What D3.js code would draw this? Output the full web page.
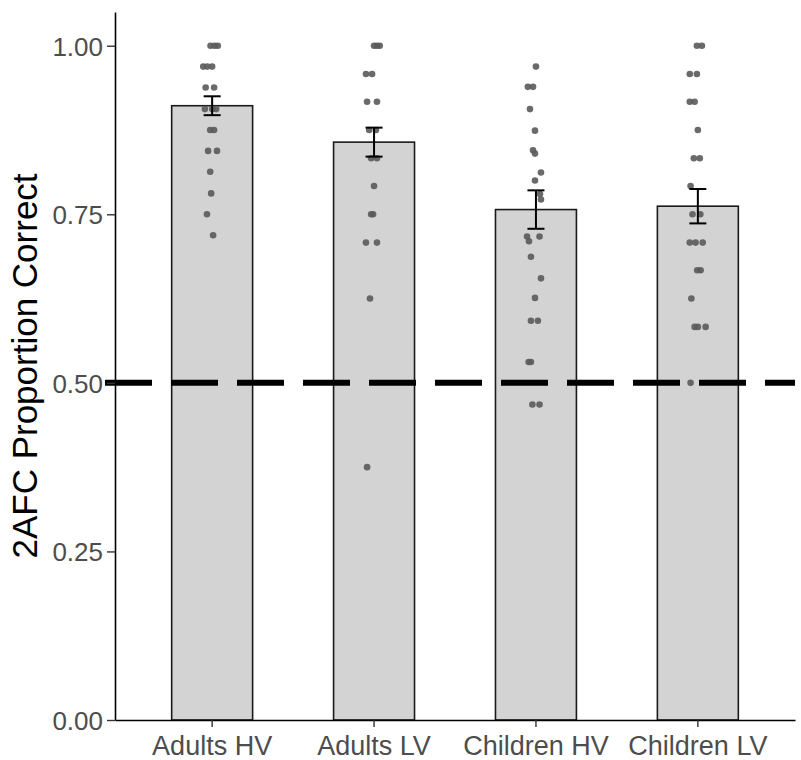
<!DOCTYPE html>
<html>
<head>
<meta charset="utf-8">
<script src="https://cdn.jsdelivr.net/npm/d3@7"></script>
<style>
  html, body { margin: 0; padding: 0; background: #ffffff; }
  svg { display: block; font-family: "Liberation Sans", Arial, sans-serif; }
</style>
</head>
<body>
<svg id="chart" width="801" height="760"></svg>
<script>
// Conditions on the x axis
const categories = ["Adults HV", "Adults LV", "Children HV", "Children LV"];

// Condition means and standard errors of 2AFC proportion correct
const means = [0.911, 0.857, 0.757, 0.762];
const stdErrors = [0.014, 0.0215, 0.0285, 0.0255];

// Individual participant scores: [proportion correct, horizontal jitter (fraction of band step)]
const adultsHV = [
  [1.000, -0.010], [1.000, 0.035], [1.000, 0.015],
  [0.969, -0.055], [0.969, 0.000], [0.969, -0.030],
  [0.938, -0.040], [0.938, 0.012],
  [0.906, -0.045], [0.906, 0.025], [0.906, 0.000],
  [0.875, -0.012], [0.875, 0.012],
  [0.844, -0.025], [0.844, 0.030],
  [0.813, -0.012], [0.781, -0.006], [0.750, -0.032], [0.719, 0.006]
];
const adultsLV = [
  [1.000, 0.000], [1.000, 0.035], [1.000, 0.018],
  [0.958, -0.050], [0.958, -0.012],
  [0.917, -0.043], [0.917, 0.018],
  [0.875, -0.030], [0.875, 0.012],
  [0.833, -0.018], [0.833, 0.018],
  [0.792, 0.000],
  [0.750, -0.018], [0.750, -0.006],
  [0.708, -0.050], [0.708, 0.018],
  [0.625, -0.025], [0.375, -0.043]
];
const childrenHV = [
  [0.969, 0.000], [0.939, -0.050], [0.939, -0.018],
  [0.906, -0.037], [0.874, -0.006], [0.845, -0.018], [0.840, -0.006],
  [0.812, 0.031], [0.800, -0.006], [0.780, 0.025], [0.772, 0.031],
  [0.717, -0.055], [0.710, -0.043], [0.717, 0.022],
  [0.687, -0.031], [0.655, 0.031], [0.626, -0.006],
  [0.592, -0.031], [0.592, 0.012],
  [0.531, -0.045], [0.531, -0.031],
  [0.468, -0.022], [0.468, 0.022]
];
const childrenLV = [
  [1.000, -0.006], [1.000, 0.025],
  [0.958, -0.050], [0.958, -0.006],
  [0.917, -0.050], [0.917, -0.020],
  [0.875, 0.000],
  [0.833, -0.025], [0.833, 0.012],
  [0.792, -0.045],
  [0.750, -0.033], [0.750, 0.015],
  [0.708, -0.050], [0.708, -0.014], [0.708, 0.030],
  [0.667, -0.004], [0.667, 0.017],
  [0.625, -0.040],
  [0.583, -0.020], [0.583, 0.000], [0.583, 0.048],
  [0.500, -0.045]
];
const pointSets = [adultsHV, adultsLV, childrenHV, childrenLV];

// Y axis ticks and chance level
const yTicks = [0, 0.25, 0.5, 0.75, 1.0];
const chanceLevel = 0.5;

const svg = d3.select("#chart");
const margin = { left: 115, right: 6, top: 12, bottom: 40 };
const W = 801, H = 760;
const x0 = margin.left, x1 = W - margin.right;
const yBottom = H - margin.bottom, yTop = margin.top;

const x = d3.scaleBand()
  .domain(categories)
  .range([x0, x1])
  .paddingInner(0.5)
  .paddingOuter(0.35);
const step = x.step();

const y = d3.scaleLinear()
  .domain([0, 1.05])
  .range([yBottom, yTop]);

const rows = categories.map((c, i) => ({ cat: c, mean: means[i], se: stdErrors[i], pts: pointSets[i] }));

// Bars
svg.append("g").selectAll("rect")
  .data(rows)
  .join("rect")
  .attr("x", d => x(d.cat))
  .attr("y", d => y(d.mean))
  .attr("width", x.bandwidth())
  .attr("height", d => y(0) - y(d.mean))
  .attr("fill", "#d3d3d3")
  .attr("stroke", "#1a1a1a")
  .attr("stroke-width", 1.6);

// Participant points
const cx = c => x(c) + x.bandwidth() / 2;
svg.append("g").selectAll("g")
  .data(rows)
  .join("g")
  .each(function (d) {
    d3.select(this).selectAll("circle")
      .data(d.pts)
      .join("circle")
      .attr("cx", p => cx(d.cat) + p[1] * step)
      .attr("cy", p => y(p[0]))
      .attr("r", 3.3)
      .attr("fill", "#5a5a5a")
      .attr("fill-opacity", 0.9);
  });

// Chance line
svg.append("line")
  .attr("x1", x0 - 10)
  .attr("x2", x1)
  .attr("y1", y(chanceLevel))
  .attr("y2", y(chanceLevel))
  .attr("stroke", "#000")
  .attr("stroke-width", 6)
  .attr("stroke-dasharray", "47,19");

// Error bars
const whisker = 0.105 * step / 2;
const eb = svg.append("g").attr("stroke", "#000").attr("stroke-width", 2);
rows.forEach(d => {
  const c = cx(d.cat);
  eb.append("line").attr("x1", c).attr("x2", c).attr("y1", y(d.mean + d.se)).attr("y2", y(d.mean - d.se));
  eb.append("line").attr("x1", c - whisker).attr("x2", c + whisker).attr("y1", y(d.mean + d.se)).attr("y2", y(d.mean + d.se));
  eb.append("line").attr("x1", c - whisker).attr("x2", c + whisker).attr("y1", y(d.mean - d.se)).attr("y2", y(d.mean - d.se));
});

// Axes
const yAxis = svg.append("g")
  .attr("transform", `translate(${x0},0)`)
  .call(d3.axisLeft(y).tickValues(yTicks).tickFormat(d3.format(".2f")).tickSize(8).tickPadding(4).tickSizeOuter(0));
yAxis.select(".domain").attr("stroke", "#000").attr("stroke-width", 1.6);
yAxis.selectAll(".tick line").attr("stroke", "#333").attr("stroke-width", 1.4);
yAxis.selectAll(".tick text").attr("fill", "#4d4d4d").attr("font-size", 26).attr("dy", "0.36em");

const xAxis = svg.append("g")
  .attr("transform", `translate(0,${yBottom})`)
  .call(d3.axisBottom(x).tickSize(7).tickPadding(4).tickSizeOuter(0));
xAxis.select(".domain").attr("stroke", "#000").attr("stroke-width", 1.6);
xAxis.selectAll(".tick line").attr("stroke", "#333").attr("stroke-width", 1.4);
xAxis.selectAll(".tick text").attr("fill", "#4d4d4d").attr("font-size", 27).attr("y", 35).attr("dy", "0");

// Y axis title
svg.append("text")
  .attr("transform", `translate(37,${(yTop + yBottom) / 2}) rotate(-90)`)
  .attr("text-anchor", "middle")
  .attr("font-size", 35)
  .attr("fill", "#000")
  .text("2AFC Proportion Correct");
</script>
</body>
</html>
